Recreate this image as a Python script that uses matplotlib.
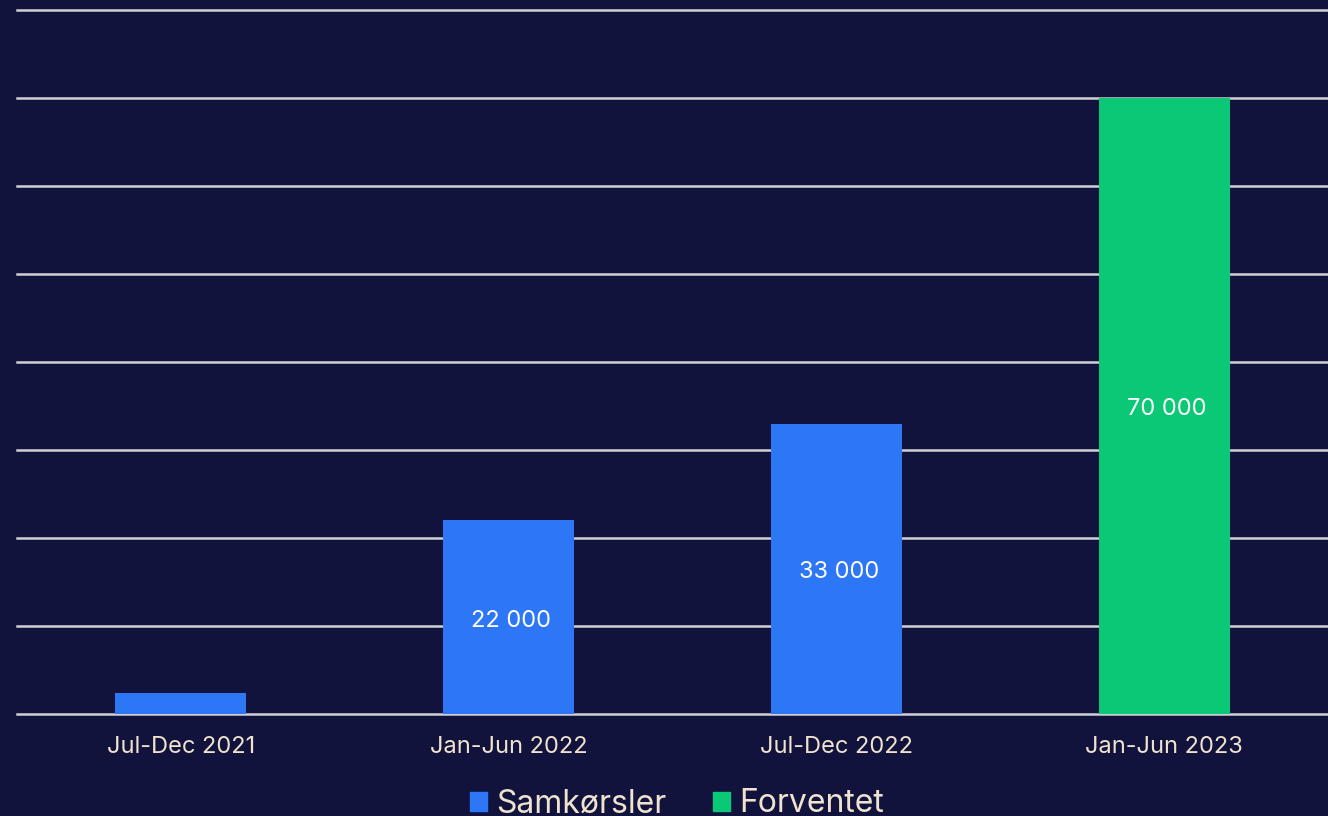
import matplotlib
matplotlib.use("Agg")
import matplotlib.pyplot as plt
from matplotlib.patches import Patch

plt.rcParams['font.family'] = ['Inter', 'DejaVu Sans']

categories = ["Jul-Dec 2021", "Jan-Jun 2022", "Jul-Dec 2022", "Jan-Jun 2023"]
samkorsler = [2400, 22000, 33000, 0]
forventet = [0, 0, 0, 70000]
labels_s = ["", "22 000", "33 000", ""]
labels_f = ["", "", "", "70 000"]
legend_labels = ["Samkørsler", "Forventet"]

bg = "#11133C"
blue = "#2D76F5"
green = "#0AC875"
cream = "#EFE3CF"

fig = plt.figure(figsize=(13.28, 8.16), dpi=100, facecolor=bg)
ax = fig.add_axes([17/1328, 1 - 714/816, 1311/1328, 704/816])
ax.set_facecolor(bg)

x = list(range(len(categories)))
b1 = ax.bar(x, samkorsler, width=0.4, color=blue, zorder=3)
b2 = ax.bar(x, forventet, width=0.4, color=green, zorder=3)

for vals, labs in ((samkorsler, labels_s), (forventet, labels_f)):
    for i, (v, l) in enumerate(zip(vals, labs)):
        if l:
            ax.annotate(l, (i, v / 2), xytext=(2, -2.5), textcoords='offset points',
                        ha='center', va='center', color='white', fontsize=17, zorder=4)

ax.set_xlim(-0.5, 3.5)
ax.set_ylim(0, 80000)
ax.set_yticks(range(0, 80001, 10000))
ax.yaxis.grid(True, color="#CFCFD4", linewidth=1.8, zorder=0)
for gl in ax.get_ygridlines():
    gl.set_clip_on(False)
ax.set_axisbelow(True)
ax.tick_params(axis='y', left=False, labelleft=False)
ax.tick_params(axis='x', bottom=False, colors=cream, labelsize=17, pad=12)
ax.set_xticks(x)
ax.set_xticklabels(categories, color=cream)
for s in ax.spines.values():
    s.set_visible(False)

handles = [Patch(color=blue), Patch(color=green)]
leg = fig.legend(handles, legend_labels, loc='center', bbox_to_anchor=(677/1328, 1 - 804/816),
                 ncol=2, frameon=False, fontsize=23, handlelength=0.53, handleheight=0.53,
                 handletextpad=0.3, columnspacing=1.45, labelcolor=cream, borderpad=0)

fig.savefig("out.png", dpi=100, facecolor=bg)
